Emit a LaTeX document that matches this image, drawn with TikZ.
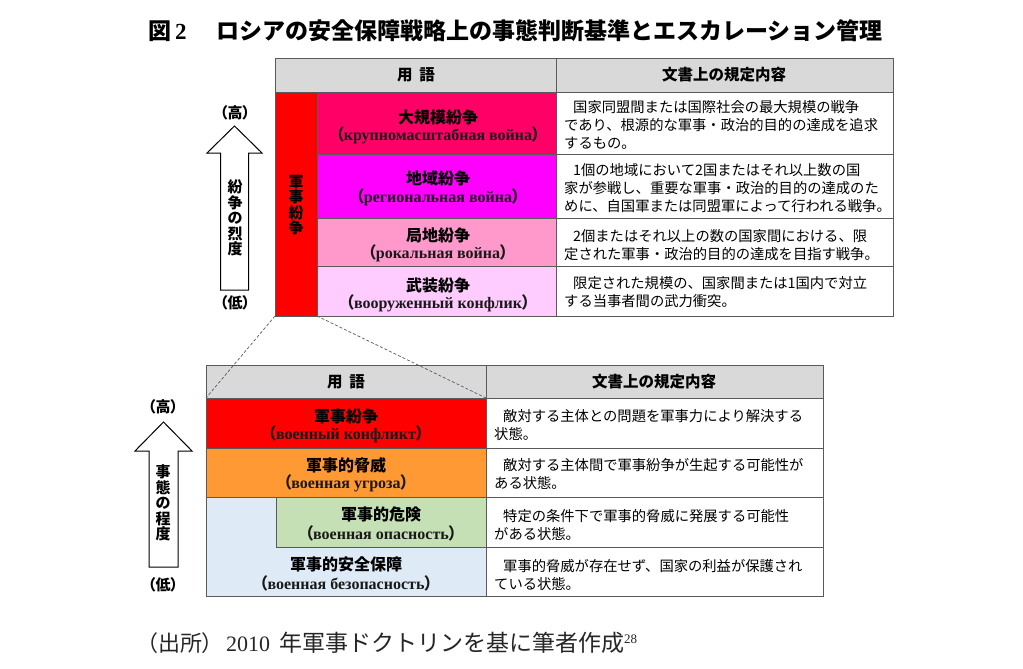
\documentclass[tikz,border=0pt]{standalone}
\usepackage{fontspec}
\setmainfont{Liberation Serif}
\newfontfamily\jp{Noto Sans CJK JP}
\newfontfamily\jpp{Noto Sans CJK JP}[RawFeature=+palt]
\definecolor{crimson}{RGB}{255,0,102}
\definecolor{magen}{RGB}{255,0,255}
\definecolor{pinkc}{RGB}{255,153,204}
\definecolor{lpink}{RGB}{255,204,255}
\definecolor{redc}{RGB}{255,0,0}
\definecolor{orangec}{RGB}{255,153,51}
\definecolor{greenc}{RGB}{197,224,180}
\definecolor{bluec}{RGB}{222,235,247}
\definecolor{hdrgray}{RGB}{217,217,217}
\definecolor{lineg}{RGB}{90,90,90}
\begin{document}
\begin{tikzpicture}[x=1pt,y=-1pt,
  cell/.style={draw=lineg,line width=0.8pt},
  term/.style={inner sep=0pt,font=\jp\bfseries\fontsize{16}{18}\selectfont},
  rus/.style={inner sep=0pt,font=\bfseries\fontsize{16}{17}\selectfont,text=black!90},
  desc/.style={anchor=west,align=left,inner sep=0pt,font=\jp\fontsize{14.3}{18}\selectfont},
  hdr/.style={inner sep=0pt,font=\jp\bfseries\fontsize{15.5}{17}\selectfont},
  lvl/.style={inner sep=0pt,font=\jpp\bfseries\fontsize{15}{17}\selectfont},
  vert/.style={inner sep=0pt,align=center,font=\jp\bfseries\fontsize{15}{15.5}\selectfont},
  bigarrow/.style={draw=black,line width=1pt,fill=white,line join=miter},
  zoomline/.style={draw=lineg,dashed,dash pattern=on 3pt off 2pt,line width=0.7pt}]
\useasboundingbox (0,0) rectangle (1023,669);
\fill[white] (0,0) rectangle (1023,669);

% ---------- title ----------
\node[anchor=west,inner sep=0pt,font=\bfseries\fontsize{23}{25}\selectfont] (tnum) at (148,31) {{\jp 図}\,2};
\node[anchor=west,inner sep=0pt,font=\jp\bfseries\fontsize{23}{25}\selectfont] (title) at (216,31) {ロシアの安全保障戦略上の事態判断基準とエスカレーション管理};

% ---------- top table ----------
\filldraw[cell,fill=hdrgray] (275,58) rectangle (556,92);
\filldraw[cell,fill=hdrgray] (556,58) rectangle (893,92);
\filldraw[cell,fill=redc] (275,92) rectangle (317,316);
\filldraw[cell,fill=crimson] (317,92) rectangle (556,154);
\filldraw[cell,fill=magen] (317,154) rectangle (556,218);
\filldraw[cell,fill=pinkc] (317,218) rectangle (556,266);
\filldraw[cell,fill=lpink] (317,266) rectangle (556,316);
\draw[cell] (556,92) rectangle (893,154);
\draw[cell] (556,154) rectangle (893,218);
\draw[cell] (556,218) rectangle (893,266);
\draw[cell] (556,266) rectangle (893,316);

\node[hdr] (h1a) at (416,75) {用\hspace{7pt}語};
\node[hdr] (h1b) at (724,75) {文書上の規定内容};
\node[vert] (mil) at (296,205) {軍\\事\\紛\\争};

\node[term] (t1) at (438,117) {大規模紛争};
\node[rus]  (r1) at (438,135) {{\jpp（}крупномасштабная война{\jpp ）}};
\node[term] (t2) at (438,178) {地域紛争};
\node[rus]  (r2) at (438,197) {{\jpp（}региональная война{\jpp ）}};
\node[term] (t3) at (438,235) {局地紛争};
\node[rus]  (r3) at (438,253) {{\jpp（}рокальная война{\jpp ）}};
\node[term] (t4) at (438,285) {武装紛争};
\node[rus]  (r4) at (438,303) {{\jpp（}вооруженный конфлик{\jpp ）}};

\node[desc] (d1) at (564,125) {\hspace{9pt}国家同盟間または国際社会の最大規模の戦争\\であり、根源的な軍事・政治的目的の達成を追求\\するもの。};
\node[desc] (d2) at (564,188) {\hspace{9pt}1個の地域において2国またはそれ以上数の国\\家が参戦し、重要な軍事・政治的目的の達成のた\\めに、自国軍または同盟軍によって行われる戦争。};
\node[desc] (d3) at (564,245) {\hspace{9pt}2個またはそれ以上の数の国家間における、限\\定された軍事・政治的目的の達成を目指す戦争。};
\node[desc] (d4) at (564,292) {\hspace{9pt}限定された規模の、国家間または1国内で対立\\する当事者間の武力衝突。};

% top arrow
\filldraw[bigarrow] (234.5,126) -- (262,153) -- (248.5,153) -- (248.5,290) -- (220.5,290) -- (220.5,153) -- (207,153) -- cycle;
\node[lvl] (hi1) at (235,113) {（高）};
\node[lvl] (lo1) at (235,303) {（低）};
\node[vert] (ax1) at (235,218) {紛\\争\\の\\烈\\度};

% ---------- bottom table ----------
\filldraw[cell,fill=hdrgray] (206,365) rectangle (486,398);
\filldraw[cell,fill=hdrgray] (486,365) rectangle (823,398);
\filldraw[cell,fill=redc] (206,398) rectangle (486,448);
\filldraw[cell,fill=orangec] (206,448) rectangle (486,497);
\filldraw[cell,fill=bluec] (206,497) rectangle (486,596);
\filldraw[cell,fill=greenc] (276,497) rectangle (486,547);
\draw[cell] (486,398) rectangle (823,448);
\draw[cell] (486,448) rectangle (823,497);
\draw[cell] (486,497) rectangle (823,547);
\draw[cell] (486,547) rectangle (823,596);

\node[hdr] (h2a) at (346,382) {用\hspace{7pt}語};
\node[hdr] (h2b) at (654,382) {文書上の規定内容};

\node[term] (u1) at (346,416) {軍事紛争};
\node[rus]  (v1) at (346,434) {{\jpp（}военный конфликт{\jpp ）}};
\node[term] (u2) at (346,465) {軍事的脅威};
\node[rus]  (v2) at (346,483) {{\jpp（}военная угроза{\jpp ）}};
\node[term] (u3) at (381,514) {軍事的危険};
\node[rus]  (v3) at (381,533) {{\jpp（}военная опасность{\jpp ）}};
\node[term] (u4) at (346,564) {軍事的安全保障};
\node[rus]  (v4) at (346,583) {{\jpp（}военная безопасность{\jpp ）}};

\node[desc] (e1) at (494,425) {\hspace{9pt}敵対する主体との問題を軍事力により解決する\\状態。};
\node[desc] (e2) at (494,474) {\hspace{9pt}敵対する主体間で軍事紛争が生起する可能性が\\ある状態。};
\node[desc] (e3) at (494,525) {\hspace{9pt}特定の条件下で軍事的脅威に発展する可能性\\がある状態。};
\node[desc] (e4) at (494,575) {\hspace{9pt}軍事的脅威が存在せず、国家の利益が保護され\\ている状態。};

% bottom arrow
\filldraw[bigarrow] (163.5,422) -- (192,451) -- (178,451) -- (178,567) -- (149,567) -- (149,451) -- (135,451) -- cycle;
\node[lvl] (hi2) at (163,407) {（高）};
\node[lvl] (lo2) at (163,585) {（低）};
\node[vert] (ax2) at (163,503) {事\\態\\の\\程\\度};

% zoom lines
\coordinate (zl1) at (275,316);
\coordinate (zr1) at (317,316);
\coordinate (zl2) at (206,398);
\coordinate (zr2) at (486,398);
\draw[zoomline] (zl1) -- (zl2);
\draw[zoomline] (zr1) -- (zr2);

% ---------- footer ----------
\node[anchor=west,inner sep=0pt,font=\jpp\fontsize{22}{24}\selectfont,text=black!85] (src) at (147,643) {（出所）};
\node[anchor=west,inner sep=0pt,font=\fontsize{22}{24}\selectfont,text=black!85] (srct) at (226,643) {2010\hspace{9pt}{\jp\fontsize{23}{24}\selectfont 年軍事ドクトリンを基に筆者作成}\raisebox{8pt}{\fontsize{13}{14}\selectfont 28}};
\end{tikzpicture}
\end{document}
